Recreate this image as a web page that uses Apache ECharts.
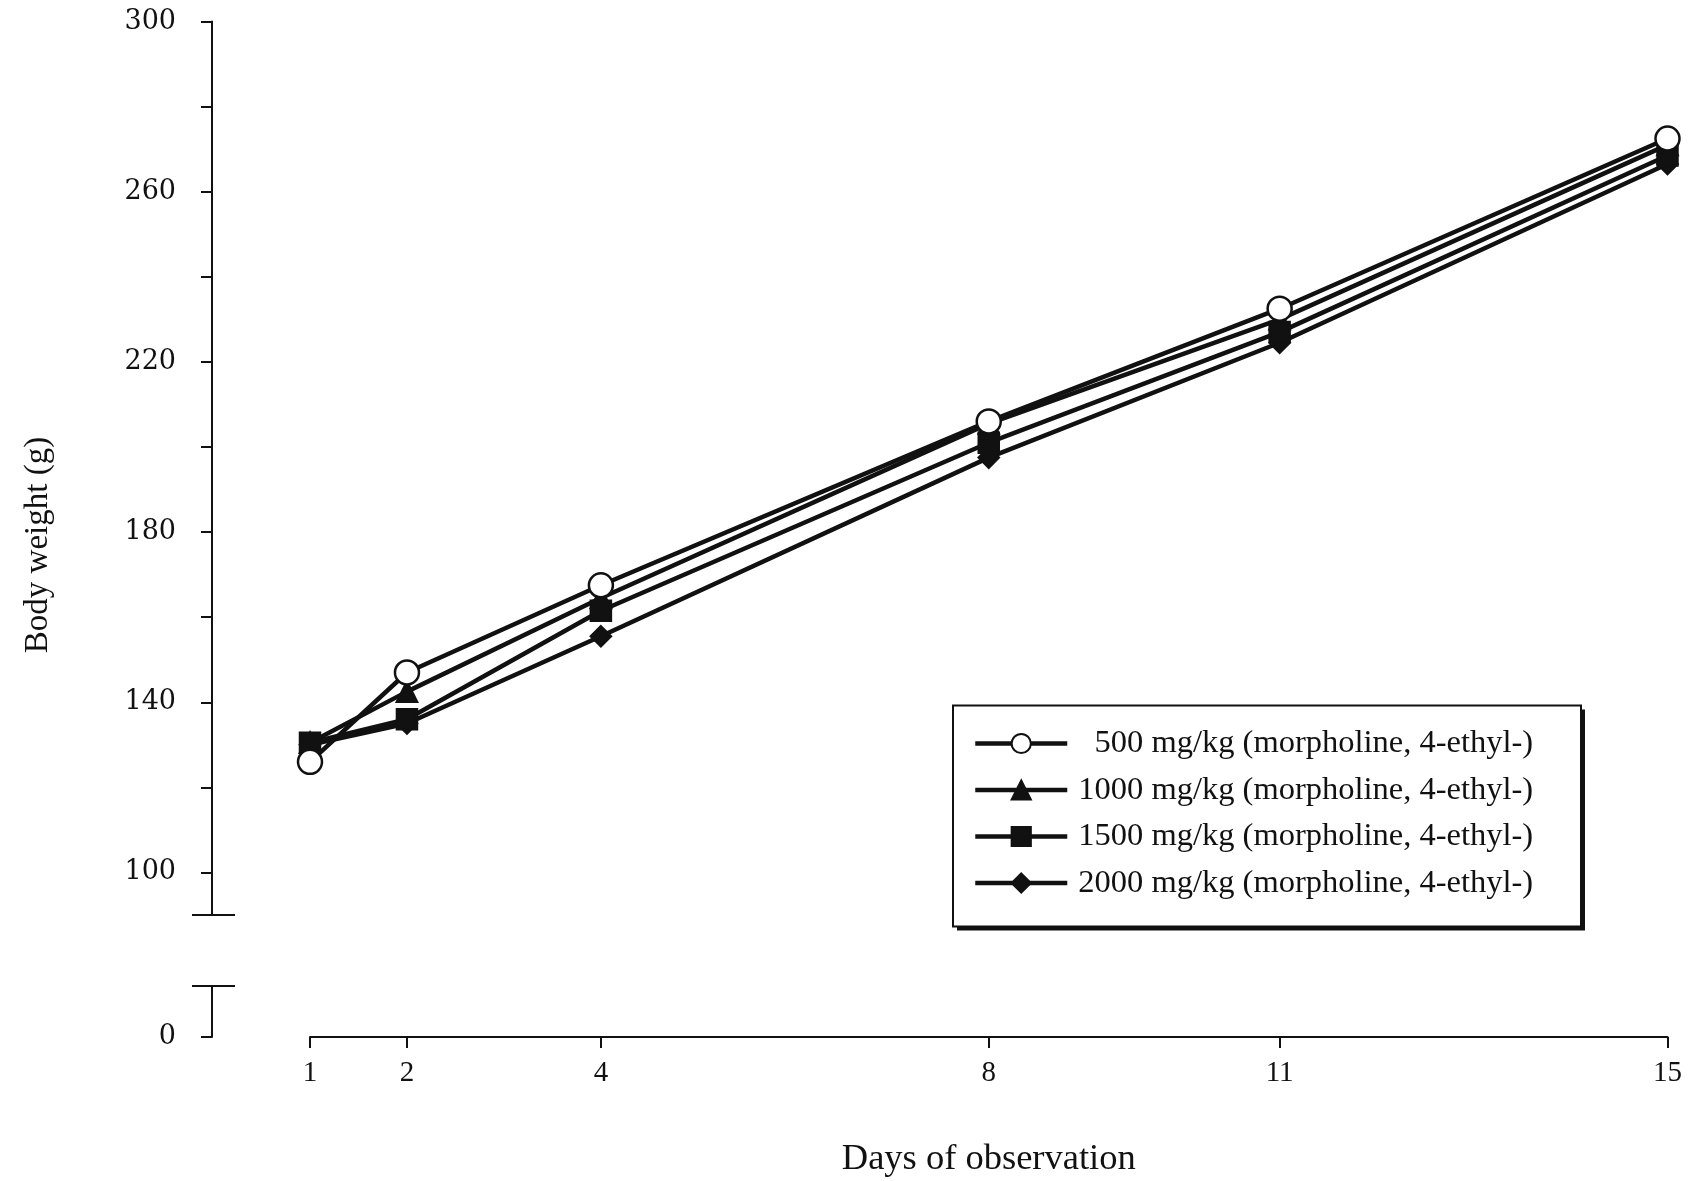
<!DOCTYPE html>
<html>
<head>
<meta charset="utf-8">
<script src="https://cdn.jsdelivr.net/npm/echarts@6.0.0/dist/echarts.min.js"></script>
<style>
  html, body { margin: 0; padding: 0; background: #fff; }
  #chart { width: 1689px; height: 1181px; }
</style>
</head>
<body>
<div id="chart"></div>
<script>
// Body weight (g) per dose group over the observation days
const days = [1, 2, 4, 8, 11, 15];
const dose500 = [126, 147, 167.5, 206, 232.5, 272.5];
const dose1000 = [130.5, 142.5, 164.5, 205.5, 230, 271];
const dose1500 = [130.5, 136, 161.5, 201, 227, 268.5];
const dose2000 = [130, 135, 155.5, 197.5, 224.5, 266.5];
const groupNames = [
  '500 mg/kg (morpholine, 4-ethyl-)',
  '1000 mg/kg (morpholine, 4-ethyl-)',
  '1500 mg/kg (morpholine, 4-ethyl-)',
  '2000 mg/kg (morpholine, 4-ethyl-)'
];
const yTicks = [100, 120, 140, 160, 180, 200, 220, 240, 260, 280, 300];
const yLabels = [100, 140, 180, 220, 260, 300];
const lowLabels = [0];

const FONT = '"Liberation Serif", "Times New Roman", serif';
const NUM_FONT = '"DejaVu Serif", serif';
const INK = '#111';
const Y_OFFSET = 98; // y axis sits left of day 1

const chart = echarts.init(document.getElementById('chart'));

function pairs(vals) {
  return days.map((d, i) => [d, vals[i]]);
}

function makeSeries(name, vals, symbol, size, fill, z) {
  return {
    name: name,
    type: 'line',
    xAxisIndex: 0,
    yAxisIndex: 0,
    data: pairs(vals),
    symbol: symbol,
    symbolSize: size,
    showAllSymbol: true,
    z: z,
    lineStyle: { color: INK, width: 4.5 },
    itemStyle: { color: fill, borderColor: INK, borderWidth: 2.5 },
    animation: false
  };
}

const axisLine = { show: true, onZero: false, lineStyle: { color: INK, width: 2 } };

const option = {
  animation: false,
  backgroundColor: '#fff',
  grid: [
    { left: 310, right: 21.5, top: 21.5, bottom: 266 },
    { left: 310, right: 21.5, top: 986, bottom: 144 }
  ],
  xAxis: [
    { gridIndex: 0, type: 'value', min: 1, max: 15, show: false },
    {
      gridIndex: 1, type: 'value', min: 1, max: 15,
      axisLine: axisLine,
      axisTick: { show: true, customValues: days, length: 11, lineStyle: { color: INK, width: 2 } },
      axisLabel: { customValues: days, margin: 22, color: INK, fontFamily: FONT, fontSize: 29 },
      splitLine: { show: false },
      name: 'Days of observation',
      nameLocation: 'middle',
      nameGap: 104,
      nameTextStyle: { color: INK, fontFamily: FONT, fontSize: 36.5 }
    }
  ],
  yAxis: [
    {
      gridIndex: 0, type: 'value', min: 90, max: 300, offset: Y_OFFSET,
      axisLine: axisLine,
      axisTick: { show: true, customValues: yTicks, length: 11, lineStyle: { color: INK, width: 2 } },
      axisLabel: { customValues: yLabels, margin: 36, color: INK, fontFamily: NUM_FONT, fontSize: 27 },
      splitLine: { show: false }
    },
    {
      gridIndex: 1, type: 'value', min: 0, max: 12, offset: Y_OFFSET,
      axisLine: axisLine,
      axisTick: { show: true, customValues: lowLabels, length: 11, lineStyle: { color: INK, width: 2 } },
      axisLabel: { customValues: lowLabels, margin: 36, color: INK, fontFamily: NUM_FONT, fontSize: 27 },
      splitLine: { show: false }
    }
  ],
  legend: {
    orient: 'vertical',
    left: 973,
    top: 727,
    padding: 0,
    itemGap: 13.5,
    itemWidth: 92,
    itemHeight: 24,
    data: groupNames,
    lineStyle: { width: 4.5 },
    formatter: function(name) {
      return name.indexOf('500 ') === 0 ? '  ' + name : name;
    },
    textStyle: { color: INK, fontFamily: FONT, fontSize: 32.5, padding: [0, 0, 0, 6] }
  },
  series: [
    makeSeries(groupNames[3], dose2000, 'diamond', 20, INK, 3),
    makeSeries(groupNames[2], dose1500, 'rect', 20, INK, 4),
    makeSeries(groupNames[1], dose1000, 'triangle', 20, INK, 5),
    makeSeries(groupNames[0], dose500, 'circle', 24, '#fff', 6)
  ]
};

chart.setOption(option);

// Axis-break caps, legend frame and the rotated y title, placed from the axis scales
const topBreak = chart.convertToPixel({ xAxisIndex: 0, yAxisIndex: 0 }, [1, 90]);
const lowBreak = chart.convertToPixel({ xAxisIndex: 1, yAxisIndex: 1 }, [1, 12]);
const axisX = topBreak[0] - Y_OFFSET;
const box = { x: 953, y: 705.5, width: 628, height: 221 };

chart.setOption({
  graphic: [
    { type: 'line', shape: { x1: axisX - 20, y1: topBreak[1], x2: axisX + 23, y2: topBreak[1] },
      style: { stroke: INK, lineWidth: 2 } },
    { type: 'line', shape: { x1: axisX - 20, y1: lowBreak[1], x2: axisX + 23, y2: lowBreak[1] },
      style: { stroke: INK, lineWidth: 2 } },
    { type: 'rect', z: 1, shape: { x: box.x + 4, y: box.y + 4, width: box.width, height: box.height },
      style: { fill: INK } },
    { type: 'rect', z: 1, shape: box, style: { fill: '#fff', stroke: INK, lineWidth: 2 } },
    { type: 'text', x: 38, y: 545, rotation: Math.PI / 2,
      style: { text: 'Body weight (g)', fill: INK, font: '33px ' + FONT, align: 'center', verticalAlign: 'middle' } }
  ]
});
</script>
</body>
</html>
